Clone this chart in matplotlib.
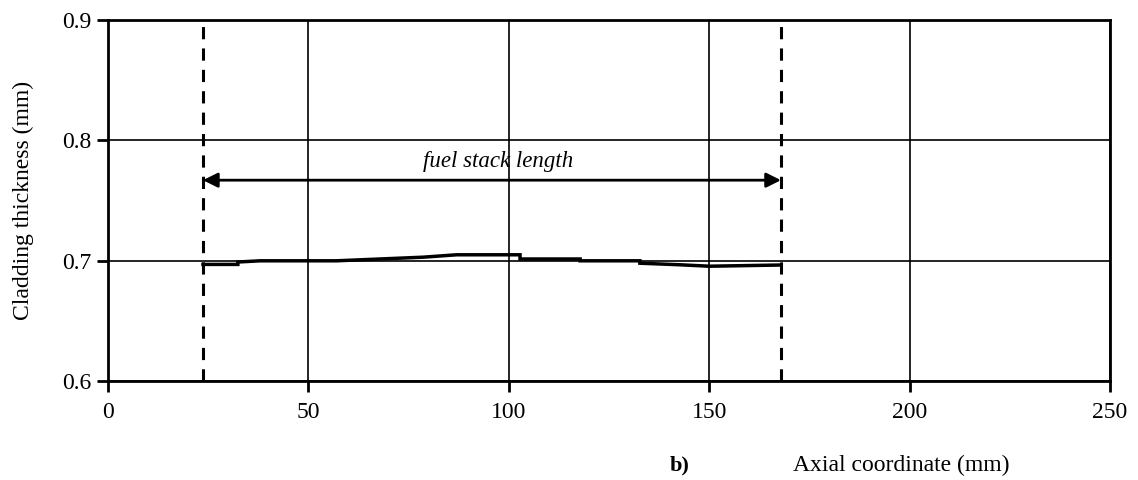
import matplotlib
matplotlib.use('Agg')
import matplotlib.pyplot as plt

# cladding thickness profile along the rod
axial = [23.7, 32.4, 32.4, 38.0, 57.0, 78.6, 87.0, 102.8, 102.8, 117.8, 117.8,
         132.7, 132.7, 142.7, 150.0, 167.9]
thickness = [0.697, 0.697, 0.699, 0.700, 0.700, 0.703, 0.705, 0.705, 0.7015,
             0.7015, 0.700, 0.700, 0.698, 0.6967, 0.6955, 0.6965]

stack_start = 23.7
stack_end = 167.9
arrow_y = 0.767

xticks = [0, 50, 100, 150, 200, 250]
yticks = [0.6, 0.7, 0.8, 0.9]
yticklabels = ['0.6', '0.7', '0.8', '0.9']

plt.rcParams['font.family'] = ['Liberation Serif', 'DejaVu Serif']

fig = plt.figure(figsize=(11.38, 4.8), dpi=100)
ax = fig.add_axes([0.0949, 0.206, 0.8805, 0.752])

ax.plot(axial, thickness, color='k', linewidth=2.5, solid_joinstyle='miter', zorder=3)

ax.axvline(stack_start, color='k', linestyle=(0, (4, 3)), linewidth=2.2, zorder=4)
ax.axvline(stack_end, color='k', linestyle=(0, (4, 3)), linewidth=2.2, zorder=4)

ax.annotate('', xy=(stack_start, arrow_y), xytext=(stack_end, arrow_y),
            arrowprops=dict(arrowstyle='<|-|>', color='k', lw=2, mutation_scale=22,
                            shrinkA=0, shrinkB=0), zorder=4)
ax.text((stack_start + stack_end) / 2 + 1.5, arrow_y + 0.007, 'fuel stack length',
        ha='center', va='bottom', fontsize=16.5, style='italic')

ax.set_xlim(0, 250)
ax.set_ylim(0.6, 0.9)
ax.set_xticks(xticks)
ax.set_yticks(yticks)
ax.set_yticklabels(yticklabels)
ax.grid(True, color='k', linewidth=1.2)
ax.set_axisbelow(True)
for s in ax.spines.values():
    s.set_linewidth(2)
ax.tick_params(direction='out', length=8, width=2, labelsize=17, pad=4)
ax.tick_params(axis='x', pad=7)

ax.set_ylabel('Cladding thickness (mm)', fontsize=17, labelpad=20)
fig.text(0.597, 0.031, 'b)', fontsize=16, fontweight='bold', ha='center', va='center')
fig.text(0.792, 0.031, 'Axial coordinate (mm)', fontsize=17, ha='center', va='center')

fig.savefig('out.png', dpi=100)
